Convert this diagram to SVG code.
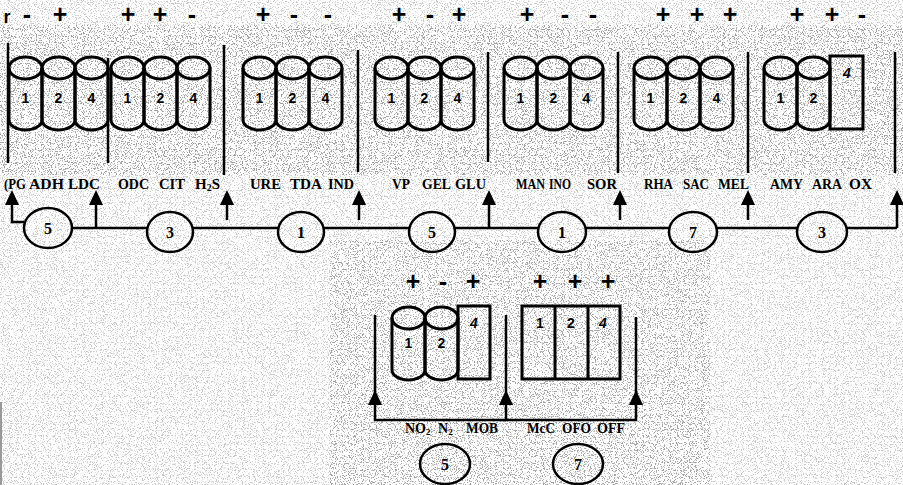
<svg xmlns="http://www.w3.org/2000/svg" xmlns:xlink="http://www.w3.org/1999/xlink" width="903" height="485" viewBox="0 0 903 485">
<style>
.sh{fill:none;stroke:#000;stroke-width:3}
.ln{fill:none;stroke:#000;stroke-width:2.5}
.sg{font-family:"Liberation Sans",Arial,sans-serif;font-weight:bold;font-size:25px;text-anchor:middle;fill:#000}
.num{font-family:"Liberation Sans",Arial,sans-serif;font-weight:bold;font-size:14px;text-anchor:middle;fill:#000}
.lb{font-family:"Liberation Serif","Times New Roman",serif;font-weight:bold;font-size:15px;fill:#000}
.lb2{font-family:"Liberation Serif","Times New Roman",serif;font-weight:bold;font-size:14px;fill:#000}
.ev{fill:none;stroke:#000;stroke-width:2.5}
.en{font-family:"Liberation Serif","Times New Roman",serif;font-weight:bold;font-size:16px;text-anchor:middle;fill:#000}
</style>
<defs>
<filter id="speck" x="0" y="0" width="100%" height="100%">
<feTurbulence type="fractalNoise" baseFrequency="0.85" numOctaves="2" seed="7"/>
<feColorMatrix type="matrix" values="0 0 0 0 0.3  0 0 0 0 0.3  0 0 0 0 0.3  9 0 0 0 -4.9"/>
</filter>
<g id="cyl"><path class="sh" d="M0,0 V52 A16.5,10 0 0 0 33,52 V0"/><ellipse class="sh" cx="16.5" cy="0" rx="16.5" ry="11"/></g>
<path id="arr" d="M-7,15 L0,0 L7,15 Z" fill="#000"/>
</defs>
<rect width="903" height="485" fill="#fff"/>
<rect x="0" y="0" width="903" height="485" filter="url(#speck)" opacity="0.5"/>
<rect x="0" y="25" width="903" height="150" filter="url(#speck)" opacity="0.8"/>
<rect x="330" y="240" width="380" height="245" filter="url(#speck)" opacity="0.7"/>
<line x1="1" y1="402" x2="1" y2="485" stroke="#999" stroke-width="2"/>

<g id="signs-top">
<text class="sg" x="7" y="23" style="font-size:18px">r</text><text class="sg" x="27" y="23">-</text><text class="sg" x="60" y="23">+</text>
<text class="sg" x="128" y="23">+</text><text class="sg" x="160" y="23">+</text><text class="sg" x="192" y="23">-</text>
<text class="sg" x="263" y="23">+</text><text class="sg" x="294" y="23">-</text><text class="sg" x="328" y="23">-</text>
<text class="sg" x="399" y="23">+</text><text class="sg" x="430" y="23">-</text><text class="sg" x="459" y="23">+</text>
<text class="sg" x="527" y="23">+</text><text class="sg" x="565" y="23">-</text><text class="sg" x="593" y="23">-</text>
<text class="sg" x="663" y="23">+</text><text class="sg" x="697" y="23">+</text><text class="sg" x="730" y="23">+</text>
<text class="sg" x="797" y="23">+</text><text class="sg" x="832" y="23">+</text><text class="sg" x="862" y="23">-</text>
</g>

<g id="group1">
<use xlink:href="#cyl" x="9" y="68"/><use xlink:href="#cyl" x="42" y="68"/><use xlink:href="#cyl" x="75" y="68"/>
<text class="num" x="25.5" y="103">1</text><text class="num" x="58.5" y="103">2</text><text class="num" x="91.5" y="103">4</text>
</g>
<g id="group2">
<use xlink:href="#cyl" x="111" y="68"/><use xlink:href="#cyl" x="144" y="68"/><use xlink:href="#cyl" x="177" y="68"/>
<text class="num" x="127.5" y="103">1</text><text class="num" x="160.5" y="103">2</text><text class="num" x="193.5" y="103">4</text>
</g>
<g id="group3">
<use xlink:href="#cyl" x="243" y="68"/><use xlink:href="#cyl" x="276" y="68"/><use xlink:href="#cyl" x="309" y="68"/>
<text class="num" x="259.5" y="103">1</text><text class="num" x="292.5" y="103">2</text><text class="num" x="325.5" y="103">4</text>
</g>
<g id="group4">
<use xlink:href="#cyl" x="375" y="68"/><use xlink:href="#cyl" x="408" y="68"/><use xlink:href="#cyl" x="441" y="68"/>
<text class="num" x="391.5" y="103">1</text><text class="num" x="424.5" y="103">2</text><text class="num" x="457.5" y="103">4</text>
</g>
<g id="group5">
<use xlink:href="#cyl" x="504" y="68"/><use xlink:href="#cyl" x="537" y="68"/><use xlink:href="#cyl" x="570" y="68"/>
<text class="num" x="520.5" y="103">1</text><text class="num" x="553.5" y="103">2</text><text class="num" x="586.5" y="103">4</text>
</g>
<g id="group6">
<use xlink:href="#cyl" x="634" y="68"/><use xlink:href="#cyl" x="667" y="68"/><use xlink:href="#cyl" x="700" y="68"/>
<text class="num" x="650.5" y="103">1</text><text class="num" x="683.5" y="103">2</text><text class="num" x="716.5" y="103">4</text>
</g>
<g id="group7">
<use xlink:href="#cyl" x="764" y="68"/><use xlink:href="#cyl" x="797" y="68"/>
<rect class="sh" x="830" y="56" width="33" height="73"/>
<text class="num" x="780.5" y="103">1</text><text class="num" x="813.5" y="103">2</text><text class="num" x="847" y="78" font-style="italic">4</text>
</g>

<g id="labels-top">
<text class="lb" x="4" y="189" textLength="22" lengthAdjust="spacingAndGlyphs">(PG</text>
<text class="lb" x="29" y="189" textLength="35" lengthAdjust="spacingAndGlyphs">ADH</text>
<text class="lb" x="68" y="189" textLength="32" lengthAdjust="spacingAndGlyphs">LDC</text>
<text class="lb" x="118" y="189" textLength="31" lengthAdjust="spacingAndGlyphs">ODC</text>
<text class="lb" x="159" y="189" textLength="26" lengthAdjust="spacingAndGlyphs">CIT</text>
<text class="lb" x="195" y="189">H<tspan font-size="10" dy="2">2</tspan><tspan dy="-2">S</tspan></text>
<text class="lb" x="250" y="189" textLength="31" lengthAdjust="spacingAndGlyphs">URE</text>
<text class="lb" x="290" y="189" textLength="32" lengthAdjust="spacingAndGlyphs">TDA</text>
<text class="lb" x="328" y="189" textLength="26" lengthAdjust="spacingAndGlyphs">IND</text>
<text class="lb" x="392" y="189" textLength="18" lengthAdjust="spacingAndGlyphs">VP</text>
<text class="lb" x="422" y="189" textLength="29" lengthAdjust="spacingAndGlyphs">GEL</text>
<text class="lb" x="455" y="189" textLength="31" lengthAdjust="spacingAndGlyphs">GLU</text>
<text class="lb" x="516" y="189" textLength="29" lengthAdjust="spacingAndGlyphs">MAN</text>
<text class="lb" x="549" y="189" textLength="22" lengthAdjust="spacingAndGlyphs">INO</text>
<text class="lb" x="587" y="189" textLength="30" lengthAdjust="spacingAndGlyphs">SOR</text>
<text class="lb" x="644" y="189" textLength="29" lengthAdjust="spacingAndGlyphs">RHA</text>
<text class="lb" x="683" y="189" textLength="26" lengthAdjust="spacingAndGlyphs">SAC</text>
<text class="lb" x="718" y="189" textLength="31" lengthAdjust="spacingAndGlyphs">MEL</text>
<text class="lb" x="770" y="189" textLength="33" lengthAdjust="spacingAndGlyphs">AMY</text>
<text class="lb" x="812" y="189" textLength="30" lengthAdjust="spacingAndGlyphs">ARA</text>
<text class="lb" x="849" y="189" textLength="23" lengthAdjust="spacingAndGlyphs">OX</text>
</g>

<g id="sum-top-1"><ellipse class="ev" cx="48" cy="228" rx="24" ry="20"/><text class="en" x="48" y="234">5</text></g>
<g id="sum-top-2"><ellipse class="ev" cx="170" cy="232" rx="23" ry="20"/><text class="en" x="170" y="238">3</text></g>
<g id="sum-top-3"><ellipse class="ev" cx="301" cy="232" rx="23" ry="20"/><text class="en" x="301" y="238">1</text></g>
<g id="sum-top-4"><ellipse class="ev" cx="432" cy="232" rx="23" ry="20"/><text class="en" x="432" y="238">5</text></g>
<g id="sum-top-5"><ellipse class="ev" cx="562" cy="232" rx="24" ry="20"/><text class="en" x="562" y="238">1</text></g>
<g id="sum-top-6"><ellipse class="ev" cx="693" cy="232" rx="24" ry="20"/><text class="en" x="693" y="238">7</text></g>
<g id="sum-top-7"><ellipse class="ev" cx="822" cy="232" rx="25" ry="20"/><text class="en" x="822" y="238">3</text></g>

<g id="signs-bottom">
<text class="sg" x="413" y="290">+</text><text class="sg" x="443" y="290">-</text><text class="sg" x="473" y="290">+</text>
<text class="sg" x="540" y="290">+</text><text class="sg" x="575" y="290">+</text><text class="sg" x="608" y="290">+</text>
</g>
<g id="group8">
<use xlink:href="#cyl" x="392" y="318"/><use xlink:href="#cyl" x="425" y="318"/>
<rect class="sh" x="458" y="306" width="32" height="73"/>
<text class="num" x="408.5" y="348">1</text><text class="num" x="441.5" y="348">2</text><text class="num" x="474" y="328" font-style="italic">4</text>
</g>
<g id="group9">
<rect class="sh" x="522" y="306" width="98" height="73"/>
<line class="sh" x1="555" y1="306" x2="555" y2="379"/><line class="sh" x1="588" y1="306" x2="588" y2="379"/>
<text class="num" x="540" y="328">1</text><text class="num" x="571" y="328">2</text><text class="num" x="603" y="328" font-style="italic">4</text>
</g>
<g id="labels-bottom">
<text class="lb2" x="405" y="433">NO<tspan font-size="9" dy="2">2</tspan></text>
<text class="lb2" x="438" y="433">N<tspan font-size="9" dy="2">2</tspan></text>
<text class="lb2" x="466" y="433" textLength="32" lengthAdjust="spacingAndGlyphs">MOB</text>
<text class="lb2" x="527" y="433" textLength="28" lengthAdjust="spacingAndGlyphs">McC</text>
<text class="lb2" x="562" y="433" textLength="29" lengthAdjust="spacingAndGlyphs">OFO</text>
<text class="lb2" x="597" y="433" textLength="28" lengthAdjust="spacingAndGlyphs">OFF</text>
</g>
<g id="sum-bottom-1"><ellipse class="ev" cx="445" cy="464" rx="25" ry="20"/><text class="en" x="445" y="470">5</text></g>
<g id="sum-bottom-2"><ellipse class="ev" cx="578" cy="464" rx="25" ry="20"/><text class="en" x="578" y="470">7</text></g>

<g id="connectors">
<line class="ln" x1="8" y1="43" x2="8" y2="163"/>
<line class="ln" x1="108" y1="58" x2="108" y2="163"/>
<line class="ln" x1="224" y1="45" x2="224" y2="175"/>
<line class="ln" x1="358" y1="50" x2="358" y2="172"/>
<line class="ln" x1="488" y1="52" x2="488" y2="162"/>
<line class="ln" x1="618" y1="52" x2="618" y2="173"/>
<line class="ln" x1="748" y1="52" x2="748" y2="173"/>
<line class="ln" x1="895" y1="52" x2="895" y2="173"/>
<path class="ln" d="M12,200 V222 H24"/>
<use xlink:href="#arr" x="12" y="190"/>
<line class="ln" x1="72" y1="228" x2="147" y2="228"/>
<line class="ln" x1="193" y1="228" x2="278" y2="228"/>
<line class="ln" x1="324" y1="228" x2="409" y2="228"/>
<line class="ln" x1="455" y1="228" x2="538" y2="228"/>
<line class="ln" x1="586" y1="228" x2="669" y2="228"/>
<line class="ln" x1="717" y1="228" x2="797" y2="228"/>
<line class="ln" x1="847" y1="228" x2="897" y2="228"/>
<line class="ln" x1="96" y1="200" x2="96" y2="228"/><use xlink:href="#arr" x="96" y="190"/>
<line class="ln" x1="227" y1="200" x2="227" y2="220"/><use xlink:href="#arr" x="227" y="190"/>
<line class="ln" x1="359" y1="200" x2="359" y2="220"/><use xlink:href="#arr" x="359" y="190"/>
<line class="ln" x1="489" y1="200" x2="489" y2="228"/><use xlink:href="#arr" x="489" y="190"/>
<line class="ln" x1="620" y1="200" x2="620" y2="220"/><use xlink:href="#arr" x="620" y="190"/>
<line class="ln" x1="748" y1="200" x2="748" y2="220"/><use xlink:href="#arr" x="748" y="190"/>
<line class="ln" x1="897" y1="200" x2="897" y2="228"/><use xlink:href="#arr" x="897" y="190"/>
<path class="ln" d="M375,315 V420 H636 V317"/>
<line class="ln" x1="506" y1="315" x2="506" y2="420"/>
<use xlink:href="#arr" x="375" y="390"/>
<use xlink:href="#arr" x="506" y="390"/>
<use xlink:href="#arr" x="636" y="390"/>
</g>
</svg>
